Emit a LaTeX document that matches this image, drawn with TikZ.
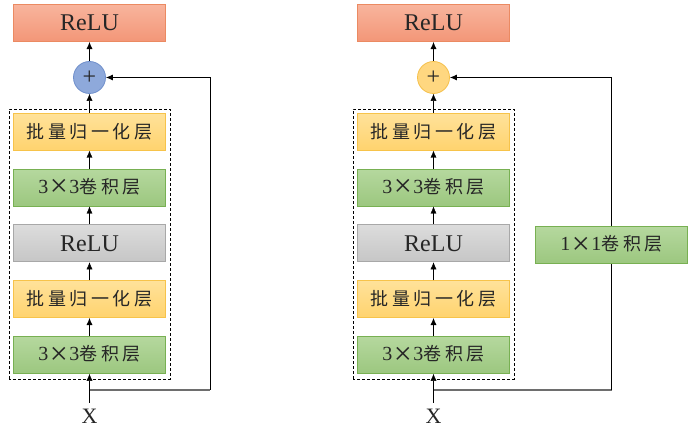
\documentclass[tikz,border=0pt]{standalone}
\usepackage{fontspec}
\setmainfont{Liberation Serif}
\newfontfamily\cjk[LetterSpace=20,Scale=0.9]{Noto Sans CJK SC}
\usetikzlibrary{arrows.meta,positioning,calc}
\newcommand{\by}{\hspace{1.5pt}\raisebox{-3.5pt}{\scalebox{1.6}{×}}\hspace{1.5pt}}
\definecolor{txt}{HTML}{262626}
\definecolor{reluedge}{HTML}{EB8A62}
\definecolor{relutop}{HTML}{F8B49C}
\definecolor{relubot}{HTML}{F39677}
\definecolor{bnedge}{HTML}{F7C34A}
\definecolor{bntop}{HTML}{FFE29A}
\definecolor{bnbot}{HTML}{FFD36E}
\definecolor{convedge}{HTML}{78B052}
\definecolor{convtop}{HTML}{B5D89E}
\definecolor{convbot}{HTML}{9CC77F}
\definecolor{actedge}{HTML}{A8A8A8}
\definecolor{acttop}{HTML}{DCDCDC}
\definecolor{actbot}{HTML}{C6C6C6}
\definecolor{sumblue}{HTML}{8EA9DB}
\definecolor{sumblueedge}{HTML}{6F8FCB}
\definecolor{sumyellow}{HTML}{FFD780}
\definecolor{sumyellowedge}{HTML}{F5C04A}
\definecolor{skipgray}{HTML}{6E6E6E}

\begin{document}
\begin{tikzpicture}[x=1pt,y=1pt,>={Latex[length=7pt,width=6pt]},node distance=18pt,
    layer/.style={draw,line width=0.8pt,minimum width=152pt,minimum height=37pt,inner sep=0pt,text=txt,font=\fontsize{20}{24}\selectfont},
    relubox/.style={layer,draw=reluedge,top color=relutop,bottom color=relubot,font=\fontsize{24}{28}\selectfont},
    actbox/.style={layer,draw=actedge,top color=acttop,bottom color=actbot,font=\fontsize{24}{28}\selectfont},
    bnbox/.style={layer,draw=bnedge,top color=bntop,bottom color=bnbot},
    convbox/.style={layer,draw=convedge,top color=convtop,bottom color=convbot},
    sumnode/.style={circle,line width=0.8pt,minimum size=32pt,inner sep=0pt,text=txt,font=\fontsize{24}{28}\selectfont},
    inputtext/.style={inner sep=6pt,text=txt,font=\fontsize{22}{24}\selectfont},
    block/.style={dashed,line width=0.7pt,dash pattern=on 3pt off 2pt},
    skip/.style={draw=skipgray,line width=1.3pt}]
    \useasboundingbox (0,0) rectangle (698,433);

    % plain residual block
    \node[convbox] (convA1) at (89.5,78) {3\by3\cjk 卷积层};
    \node[bnbox] (bnA1) [above=of convA1] {\cjk 批量归一化层};
    \node[actbox] (reluA) [above=of bnA1] {ReLU};
    \node[convbox] (convA2) [above=of reluA] {3\by3\cjk 卷积层};
    \node[bnbox] (bnA2) [above=of convA2] {\cjk 批量归一化层};
    \node[sumnode,draw=sumblueedge,fill=sumblue] (plusA) [above=19pt of bnA2] {+};
    \node[relubox] (outA) [above=19pt of plusA] {ReLU};
    \node[inputtext] (xA) at (89.5,17) {X};
    \coordinate (jA) at (89.5,43);
    \coordinate (cA) at (210,43);

    \draw[block] ($(convA1.south west)+(-4,-5)$) rectangle ($(bnA2.north east)+(4,4)$);
    \path[->]
    (xA.north) edge (convA1)
    (convA1) edge (bnA1)
    (bnA1) edge (reluA)
    (reluA) edge (convA2)
    (convA2) edge (bnA2)
    (bnA2) edge (plusA)
    (plusA) edge (outA)
    ;
    \draw[skip] (jA) -- (cA);
    \draw[->,line width=0.8pt] (cA) |- (plusA);

    % residual block with 1x1 convolution
    \node[convbox] (convB1) at (433.5,78) {3\by3\cjk 卷积层};
    \node[bnbox] (bnB1) [above=of convB1] {\cjk 批量归一化层};
    \node[actbox] (reluB) [above=of bnB1] {ReLU};
    \node[convbox] (convB2) [above=of reluB] {3\by3\cjk 卷积层};
    \node[bnbox] (bnB2) [above=of convB2] {\cjk 批量归一化层};
    \node[sumnode,draw=sumyellowedge,fill=sumyellow] (plusB) [above=19pt of bnB2] {+};
    \node[relubox] (outB) [above=19pt of plusB] {ReLU};
    \node[convbox] (convS) at (611.5,188) {1\by1\cjk 卷积层};
    \node[inputtext] (xB) at (433.5,17) {X};
    \coordinate (jB) at (433.5,43);
    \coordinate (cB) at (611.5,43);

    \draw[block] ($(convB1.south west)+(-4,-5)$) rectangle ($(bnB2.north east)+(4,4)$);
    \path[->]
    (xB.north) edge (convB1)
    (convB1) edge (bnB1)
    (bnB1) edge (reluB)
    (reluB) edge (convB2)
    (convB2) edge (bnB2)
    (bnB2) edge (plusB)
    (plusB) edge (outB)
    ;
    \draw[skip] (jB) -- (cB);
    \draw[line width=0.8pt] (cB) -- (convS);
    \draw[->,line width=0.8pt] (convS) |- (plusB);
\end{tikzpicture}
\end{document}
